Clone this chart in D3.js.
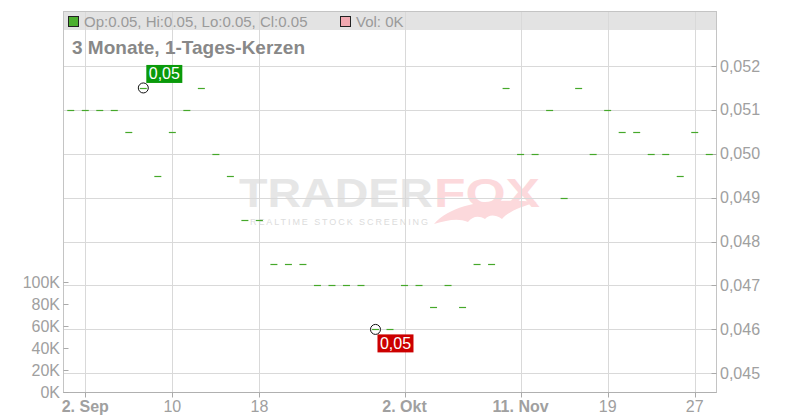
<!DOCTYPE html>
<html><head><meta charset="utf-8">
<script src="https://cdn.jsdelivr.net/npm/d3@7"></script>
<style>body{margin:0;background:#fff}svg{display:block;font-family:"Liberation Sans",Arial,sans-serif}</style>
</head><body><svg id="c" width="800" height="420"></svg>
<script>
// ---- data ----
const closes = [0.051,0.051,0.051,0.051,0.0505,0.0515,0.0495,0.0505,0.051,0.0515,
  0.050,0.0495,0.0485,0.0485,0.0475,0.0475,0.0475,0.047,0.047,0.047,
  0.047,0.046,0.046,0.047,0.047,0.0465,0.047,0.0465,0.0475,0.0475,
  0.0515,0.050,0.050,0.051,0.049,0.0515,0.050,0.051,0.0505,0.0505,
  0.050,0.050,0.0495,0.0505,0.050];
const volumes = closes.map(() => 0);
const tickIdx = [1,7,13,23,31,37,43];
const tickLabels = ["2. Sep","10","18","2. Okt","11. Nov","19","27"];
const tickBold = [true,false,false,true,true,false,false];
const priceTicks = [0.045,0.046,0.047,0.048,0.049,0.050,0.051,0.052];
const volTicks = [0,20000,40000,60000,80000,100000];
const hiIdx = 5, loIdx = 21;

// ---- layout ----
const svg = d3.select("#c");
const L = 63.5, R = 716.5, T = 11.5, B = 392.5, HB = 30;
const x = d3.scaleLinear().domain([-0.5, closes.length - 0.5]).range([L, R]);
const y = d3.scaleLinear().domain([0.045, 0.052]).range([373.3, 66]);
const yv = d3.scaleLinear().domain([0, 100000]).range([392, 282]);
const grid = "#d9d9d9", txt = "#a0a0a0";

// header band
svg.append("rect").attr("x", L).attr("y", T).attr("width", R - L).attr("height", HB - T).attr("fill", "#e3e3e3");

// watermark
const wm = svg.append("g");
wm.append("text").attr("x", 239).attr("y", 207).attr("font-family", "Liberation Sans").attr("font-weight", "bold")
  .attr("font-size", 41).attr("fill", "#e6e6e6").attr("textLength", 194).attr("lengthAdjust", "spacingAndGlyphs").text("TRADER");
wm.append("text").attr("x", 434).attr("y", 207).attr("font-family", "Liberation Sans").attr("font-weight", "bold")
  .attr("font-size", 41).attr("fill", "#fcd9dc").attr("textLength", 106).attr("lengthAdjust", "spacingAndGlyphs").text("FOX");
wm.append("text").attr("x", 250).attr("y", 224.5).attr("font-family", "Liberation Sans").attr("font-size", 9)
  .attr("fill", "#dcdcdc").attr("textLength", 178).attr("lengthAdjust", "spacing").text("REALTIME STOCK SCREENING");
wm.append("path").attr("d", "M434,224 C452,204 488,198 537,202 C520,207 508,212 502,219 C494,214 489,215 485,219 C478,215 472,217 468,222 C458,218 448,220 434,224 Z")
  .attr("fill", "#fcd9dc");

// gridlines
svg.append("g").selectAll("line").data(priceTicks).join("line")
  .attr("x1", L).attr("x2", R).attr("y1", d => Math.round(y(d)) + 0.5).attr("y2", d => Math.round(y(d)) + 0.5)
  .attr("stroke", grid);
svg.append("g").selectAll("line").data(tickIdx).join("line")
  .attr("x1", d => Math.round(x(d)) + 0.5).attr("x2", d => Math.round(x(d)) + 0.5).attr("y1", T).attr("y2", B)
  .attr("stroke", grid);

// frame
svg.append("rect").attr("x", L).attr("y", T).attr("width", R - L).attr("height", B - T)
  .attr("fill", "none").attr("stroke", "#c4c4c4");
svg.append("line").attr("x1", L).attr("x2", R).attr("y1", B).attr("y2", B).attr("stroke", "#b0b0b0");

// right price axis
const ra = svg.append("g");
ra.selectAll("line").data(priceTicks).join("line")
  .attr("x1", R - 5).attr("x2", R).attr("y1", d => Math.round(y(d)) + 0.5).attr("y2", d => Math.round(y(d)) + 0.5).attr("stroke", "#aaa");
ra.selectAll("text").data(priceTicks).join("text")
  .attr("x", 720).attr("y", d => y(d) + 5.5).attr("font-size", 16).attr("fill", txt)
  .text(d => d3.format(".3f")(d).replace(".", ","));

// left volume axis
const la = svg.append("g");
la.selectAll("line").data(volTicks).join("line")
  .attr("x1", L).attr("x2", L + 5).attr("y1", d => Math.round(yv(d)) + 0.5).attr("y2", d => Math.round(yv(d)) + 0.5).attr("stroke", "#aaa");
la.selectAll("text").data(volTicks).join("text")
  .attr("x", 60).attr("y", d => yv(d) + 5.5).attr("text-anchor", "end").attr("font-size", 16).attr("fill", txt)
  .text(d => (d / 1000) + "K");

// bottom axis
const ba = svg.append("g");
ba.selectAll("line").data(tickIdx).join("line")
  .attr("x1", d => Math.round(x(d)) + 0.5).attr("x2", d => Math.round(x(d)) + 0.5).attr("y1", B).attr("y2", B + 5).attr("stroke", "#aaa");
ba.selectAll("text").data(tickIdx).join("text")
  .attr("x", d => x(d)).attr("y", 412).attr("text-anchor", "middle").attr("font-size", 16).attr("fill", txt)
  .attr("font-weight", (d, i) => tickBold[i] ? "bold" : "normal")
  .text((d, i) => tickLabels[i]);

// volume bars (all zero)
svg.append("g").selectAll("rect").data(volumes).join("rect")
  .attr("x", (d, i) => x(i) - 3.5).attr("width", 7).attr("y", d => yv(d)).attr("height", d => yv(0) - yv(d))
  .attr("fill", "#f0a8b0");

// candles (open = high = low = close)
svg.append("g").selectAll("line").data(closes).join("line")
  .attr("x1", (d, i) => x(i) - 3.5).attr("x2", (d, i) => x(i) + 3.5)
  .attr("y1", d => Math.round(y(d)) + 0.5).attr("y2", d => Math.round(y(d)) + 0.5)
  .attr("stroke", "#45a82a").attr("stroke-width", 1.2);

// high / low markers
function marker(i, color, above) {
  const cx = x(i), cy = y(closes[i]);
  svg.append("circle").attr("cx", cx).attr("cy", cy).attr("r", 5).attr("fill", "none").attr("stroke", "#111").attr("stroke-width", 1);
  const bx = above ? cx + 3 : cx + 2, by = above ? cy - 23 : cy + 5, bw = 36, bh = 18;
  svg.append("rect").attr("x", bx).attr("y", by).attr("width", bw).attr("height", bh).attr("fill", color);
  svg.append("text").attr("x", bx + bw / 2).attr("y", by + 14.5).attr("text-anchor", "middle")
    .attr("font-size", 16).attr("fill", "#fff").text(d3.format(".2f")(closes[i]).replace(".", ","));
}
marker(hiIdx, "#0a9a0a", true);
marker(loIdx, "#cc0000", false);

// legend
svg.append("rect").attr("x", 68.5).attr("y", 16.5).attr("width", 10).attr("height", 10).attr("fill", "#4caf2f").attr("stroke", "#222");
svg.append("text").attr("x", 84).attr("y", 26.5).attr("font-size", 15).attr("fill", "#9a9a9a")
  .text(`Op:${closes[closes.length-1].toFixed(2)}, Hi:${closes[closes.length-1].toFixed(2)}, Lo:${closes[closes.length-1].toFixed(2)}, Cl:${closes[closes.length-1].toFixed(2)}`);
svg.append("rect").attr("x", 340.5).attr("y", 16.5).attr("width", 10).attr("height", 10).attr("fill", "#f0a8b0").attr("stroke", "#222");
svg.append("text").attr("x", 356).attr("y", 26.5).attr("font-size", 15).attr("fill", "#9a9a9a")
  .text(`Vol: ${d3.sum(volumes) / 1000}K`);

// title
svg.append("text").attr("x", 72).attr("y", 54).attr("font-size", 19).attr("font-weight", "bold").attr("fill", "#888")
  .text("3 Monate, 1-Tages-Kerzen");
</script></body></html>
